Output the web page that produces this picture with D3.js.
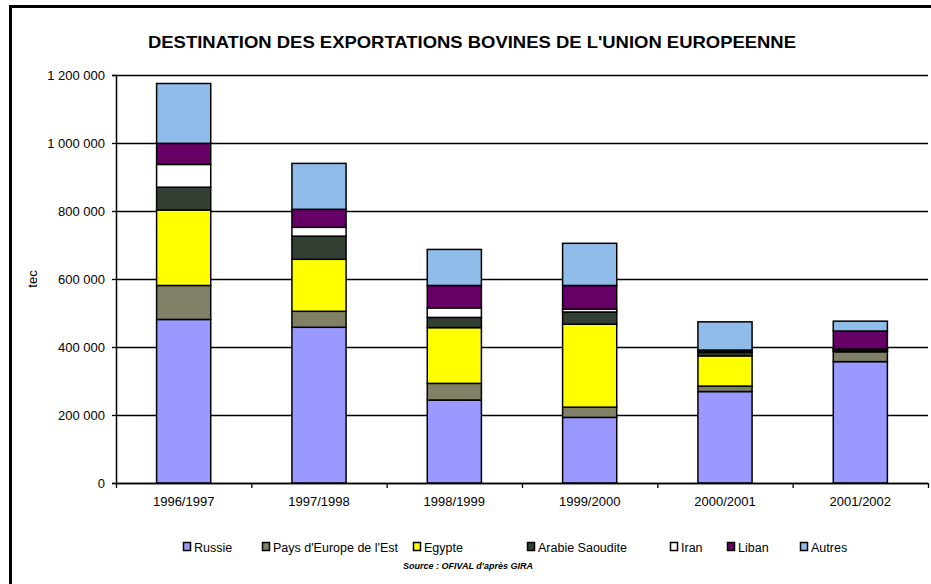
<!DOCTYPE html>
<html>
<head>
<meta charset="utf-8">
<script src="https://cdn.jsdelivr.net/npm/d3@7"></script>
<style>
  body { margin: 0; background: #fff; }
  svg { display: block; font-family: "Liberation Sans", Arial, sans-serif; }
</style>
</head>
<body>
<svg id="chart" width="931" height="584"></svg>
<script>
// data (tec)
var campagnes = ['1996/1997', '1997/1998', '1998/1999', '1999/2000', '2000/2001', '2001/2002'];
var series = ['Russie', "Pays d'Europe de l'Est", 'Egypte', 'Arabie Saoudite', 'Iran', 'Liban', 'Autres'];
var russie  = [481000, 458000, 244000, 193000, 269000, 357000];
var paysEst = [100000,  47000,  49000,  30000,  16000,  29000];
var egypte  = [222000, 153000, 164000, 244000,  89000,   2000];
var arabie  = [ 67000,  68000,  30000,  36000,  10000,   5000];
var iran    = [ 67000,  26000,  28000,   8000,   2000,   1000];
var liban   = [ 62000,  53000,  66000,  70000,   5000,  53000];
var autres  = [176000, 135000, 106000, 124000,  83000,  29000];
var yTicks = [0, 200000, 400000, 600000, 800000, 1000000, 1200000];
var colors = ['#9999ff', '#808066', '#ffff00', '#333f33', '#ffffff', '#660066', '#8fbce8'];

var values = [russie, paysEst, egypte, arabie, iran, liban, autres];
var table = campagnes.map(function(c, i) {
    var row = {campagne: c};
    series.forEach(function(s, k) { row[s] = values[k][i]; });
    return row;
});

var svg = d3.select('#chart');
var margin = {left: 116, top: 75, right: 3, bottom: 101};
var width = 931 - margin.left - margin.right;
var height = 584 - margin.top - margin.bottom;

// outer frame (continues past the right and bottom edge)
svg.append('rect')
    .attr('x', 10.5).attr('y', 6.5)
    .attr('width', 940).attr('height', 600)
    .attr('fill', 'none').attr('stroke', '#000').attr('stroke-width', 3);

svg.append('text')
    .attr('x', 472).attr('y', 48)
    .attr('text-anchor', 'middle')
    .attr('font-size', '16.5px').attr('font-weight', 'bold')
    .attr('textLength', 648).attr('lengthAdjust', 'spacingAndGlyphs')
    .text("DESTINATION DES EXPORTATIONS BOVINES DE L'UNION EUROPEENNE");

var g = svg.append('g').attr('transform', 'translate(' + margin.left + ',' + margin.top + ')');

var x = d3.scaleBand().domain(campagnes).range([0, width]).paddingInner(0.6).paddingOuter(0.3);
var xb = d3.scaleBand().domain(campagnes).range([0, width]);
var y = d3.scaleLinear().domain([0, 1200000]).range([height, 0]);

// gridlines
g.selectAll('.grid').data(yTicks).enter().append('line')
    .attr('x1', 0).attr('x2', width)
    .attr('y1', function(d) { return Math.round(y(d)) + 0.5; })
    .attr('y2', function(d) { return Math.round(y(d)) + 0.5; })
    .attr('stroke', '#000').attr('stroke-width', 1.3);

var stack = d3.stack().keys(series)(table);

var layers = g.selectAll('.layer').data(stack).enter().append('g')
    .attr('fill', function(d, i) { return colors[i]; });

layers.selectAll('rect').data(function(d) { return d; }).enter().append('rect')
    .attr('x', function(d) { return x(d.data.campagne); })
    .attr('width', x.bandwidth())
    .attr('y', function(d) { return y(d[1]); })
    .attr('height', function(d) { return y(d[0]) - y(d[1]); })
    .attr('stroke', '#000').attr('stroke-width', 1.5);

// y axis
var yAxis = g.append('g')
    .call(d3.axisLeft(y).tickValues(yTicks).tickSize(4).tickPadding(7)
        .tickFormat(function(d) { return d3.format(',')(d).replace(/,/g, ' '); }));
yAxis.select('.domain').attr('stroke-width', 1.5);
yAxis.selectAll('line').attr('stroke-width', 1.3);
yAxis.selectAll('text').attr('font-size', '13px').attr('fill', '#000')
    .attr('font-family', '"Liberation Sans", Arial, sans-serif');

// x axis
var xAxis = g.append('g').attr('transform', 'translate(0,' + height + ')');
xAxis.append('line').attr('x1', 0).attr('x2', width).attr('y1', 0.5).attr('y2', 0.5)
    .attr('stroke', '#000').attr('stroke-width', 1.5);
xAxis.selectAll('.xt').data(campagnes.concat(['end'])).enter().append('line')
    .attr('x1', function(d, i) { return i * xb.step() + 0.5; })
    .attr('x2', function(d, i) { return i * xb.step() + 0.5; })
    .attr('y1', 0).attr('y2', 5)
    .attr('stroke', '#000').attr('stroke-width', 1.3);
xAxis.selectAll('.xl').data(campagnes).enter().append('text')
    .attr('x', function(d) { return xb(d) + xb.bandwidth() / 2; })
    .attr('y', 23)
    .attr('text-anchor', 'middle').attr('font-size', '13px')
    .text(function(d) { return d; });

svg.append('text')
    .attr('transform', 'translate(37,' + (margin.top + height / 2) + ') rotate(-90)')
    .attr('text-anchor', 'middle').attr('font-size', '13px')
    .text('tec');

// legend
var legendX = [183, 262, 413, 527, 670, 727, 800];
var legend = svg.selectAll('.leg').data(series).enter().append('g')
    .attr('transform', function(d, i) { return 'translate(' + legendX[i] + ',547)'; });
legend.append('rect')
    .attr('x', 0.5).attr('y', -4.5).attr('width', 7).attr('height', 8)
    .attr('fill', function(d, i) { return colors[i]; })
    .attr('stroke', '#000').attr('stroke-width', 1.5);
legend.append('text')
    .attr('x', 11).attr('y', 5)
    .attr('font-size', '12.5px')
    .text(function(d) { return d; });

svg.append('text')
    .attr('x', 468).attr('y', 569)
    .attr('text-anchor', 'middle')
    .attr('font-size', '9px').attr('font-weight', 'bold').attr('font-style', 'italic')
    .text("Source : OFIVAL d'après GIRA");
</script>
</body>
</html>
